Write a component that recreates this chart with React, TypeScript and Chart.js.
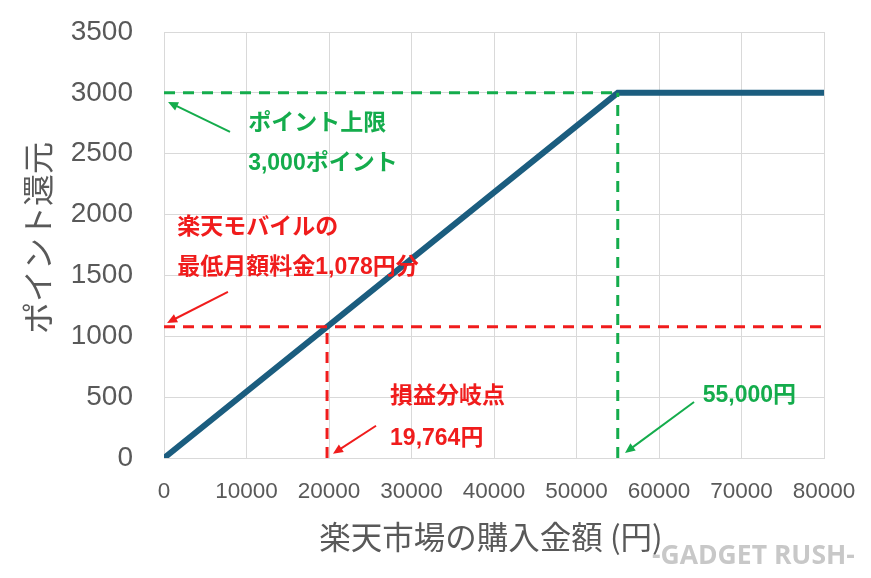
import React, { useEffect, useRef } from 'react';
import { Chart, registerables } from 'chart.js';

Chart.register(...registerables);

// ---- data ----
const purchaseAmounts = [0, 55000, 80000];
const pointsBack = [0, 3000, 3000];
const pointCap = 3000;
const capSpend = 55000;
const mobileFee = 1078;
const breakEven = 19764;
const xMin = 0;
const xMax = 80000;
const xStep = 10000;
const yMin = 0;
const yMax = 3500;
const yStep = 500;

const xTitle = '楽天市場の購入金額 (円)';
const yTitle = 'ポイント還元';
const watermark = '-GADGET RUSH-';

const GREEN = '#14ac4c';
const RED = '#f01c1c';
const BLUE = '#1b5d7f';
const GRAY_TEXT = '#595959';
const GRID = '#d9d9d9';

// annotation texts, anchored in data coordinates (left edge, vertical middle)
const noteTexts = ['ポイント上限', '3,000ポイント', '楽天モバイルの', '最低月額料金1,078円分', '損益分岐点', '19,764円', '55,000円'];
const noteX = [10200, 10200, 1600, 1600, 27400, 27400, 65300];
const noteY = [2750, 2420, 1890, 1560, 500, 156, 509];
const noteColors = [GREEN, GREEN, RED, RED, RED, RED, GREEN];

// arrows in data coordinates: tail -> head
const arrowFromX = [8000, 7750, 25700, 64250];
const arrowFromY = [2680, 1365, 265, 460];
const arrowToX = [490, 370, 20480, 55880];
const arrowToY = [2925, 1110, 35, 42];
const arrowColors = [GREEN, RED, RED, GREEN];

const overlayPlugin = {
  id: 'overlay',
  afterDatasetsDraw(chart: any) {
    const ctx = chart.ctx as CanvasRenderingContext2D;
    const xs = chart.scales.x;
    const ys = chart.scales.y;
    ctx.save();
    for (let i = 0; i < arrowFromX.length; i++) {
      const x1 = xs.getPixelForValue(arrowFromX[i]);
      const y1 = ys.getPixelForValue(arrowFromY[i]);
      const x2 = xs.getPixelForValue(arrowToX[i]);
      const y2 = ys.getPixelForValue(arrowToY[i]);
      const ang = Math.atan2(y2 - y1, x2 - x1);
      const headLen = 10;
      const headHalf = 4.5;
      ctx.strokeStyle = arrowColors[i];
      ctx.fillStyle = arrowColors[i];
      ctx.lineWidth = 2;
      ctx.setLineDash([]);
      ctx.beginPath();
      ctx.moveTo(x1, y1);
      ctx.lineTo(x2 - Math.cos(ang) * headLen * 0.8, y2 - Math.sin(ang) * headLen * 0.8);
      ctx.stroke();
      ctx.beginPath();
      ctx.moveTo(x2, y2);
      ctx.lineTo(
        x2 - Math.cos(ang) * headLen - Math.sin(ang) * headHalf,
        y2 - Math.sin(ang) * headLen + Math.cos(ang) * headHalf
      );
      ctx.lineTo(
        x2 - Math.cos(ang) * headLen + Math.sin(ang) * headHalf,
        y2 - Math.sin(ang) * headLen - Math.cos(ang) * headHalf
      );
      ctx.closePath();
      ctx.fill();
    }
    ctx.font = "bold 23px 'Liberation Sans', 'Noto Sans CJK JP', sans-serif";
    ctx.textAlign = 'left';
    ctx.textBaseline = 'middle';
    for (let i = 0; i < noteTexts.length; i++) {
      ctx.fillStyle = noteColors[i];
      ctx.fillText(noteTexts[i], xs.getPixelForValue(noteX[i]), ys.getPixelForValue(noteY[i]));
    }
    ctx.restore();
  },
  afterDraw(chart: any) {
    const ctx = chart.ctx as CanvasRenderingContext2D;
    const area = chart.chartArea;
    ctx.save();
    ctx.fillStyle = GRAY_TEXT;
    ctx.font = "31.5px 'Noto Sans CJK JP', sans-serif";
    ctx.textAlign = 'center';
    ctx.textBaseline = 'middle';
    ctx.fillText(xTitle, (area.left + area.right) / 2 - 3, 537);
    ctx.font = "32px 'Noto Sans CJK JP', sans-serif";
    ctx.translate(38, (area.top + area.bottom) / 2 - 7);
    ctx.rotate(-Math.PI / 2);
    ctx.fillText(yTitle, 0, 0);
    ctx.restore();
    ctx.save();
    ctx.fillStyle = '#c8c8c8';
    ctx.font = "bold 26.5px 'Open Sans', sans-serif";
    ctx.textAlign = 'left';
    ctx.textBaseline = 'middle';
    ctx.fillText(watermark, 652, 556);
    ctx.restore();
  },
};

function pts(xsArr: number[], ysArr: number[]) {
  return xsArr.map((x, i) => ({ x, y: ysArr[i] }));
}

function zeroPad(s: any) {
  s.paddingTop = 0;
  s.paddingBottom = 0;
  s.paddingLeft = 0;
  s.paddingRight = 0;
}

export default function App() {
  const canvasRef = useRef<HTMLCanvasElement | null>(null);

  useEffect(() => {
    if (!canvasRef.current) return;
    const dashed = (data: any, color: string) => ({
      data,
      borderColor: color,
      borderWidth: 3,
      borderDash: [11, 8],
      pointRadius: 0,
      fill: false,
      tension: 0,
    });
    const chart = new Chart(canvasRef.current, {
      type: 'line',
      data: {
        datasets: [
          dashed(pts([xMin, capSpend], [pointCap, pointCap]), GREEN),
          dashed(pts([capSpend, capSpend], [yMin, pointCap]), GREEN),
          dashed(pts([xMin, xMax], [mobileFee, mobileFee]), RED),
          dashed(pts([breakEven, breakEven], [yMin, mobileFee]), RED),
          {
            data: pts(purchaseAmounts, pointsBack),
            borderColor: BLUE,
            borderWidth: 6,
            pointRadius: 0,
            fill: false,
            tension: 0,
            borderCapStyle: 'butt',
          },
        ],
      },
      options: {
        animation: false,
        responsive: false,
        devicePixelRatio: 1,
        layout: { padding: { left: 0, top: 32, right: 47, bottom: 0 } },
        plugins: { legend: { display: false }, tooltip: { enabled: false } },
        scales: {
          x: {
            type: 'linear',
            min: xMin,
            max: xMax,
            grid: { color: GRID, lineWidth: 1, drawTicks: false },
            border: { color: GRID, width: 1 },
            ticks: {
              stepSize: xStep,
              padding: 20,
              color: GRAY_TEXT,
              font: { family: "'Liberation Sans', sans-serif", size: 22.5 },
              callback: (v: any) => String(v),
              maxRotation: 0,
            },
            afterFit: (s: any) => {
              s.height = 120;
              zeroPad(s);
            },
          },
          y: {
            type: 'linear',
            min: yMin,
            max: yMax,
            grid: { color: GRID, lineWidth: 1, drawTicks: false },
            border: { color: GRID, width: 1 },
            ticks: {
              stepSize: yStep,
              padding: 31,
              color: GRAY_TEXT,
              font: { family: "'Liberation Sans', sans-serif", size: 28 },
              callback: (v: any) => String(v),
            },
            afterFit: (s: any) => {
              s.width = 164;
              zeroPad(s);
            },
          },
        },
      },
      plugins: [overlayPlugin],
    } as any);
    return () => chart.destroy();
  }, []);

  return (
    <div style={{ position: 'fixed', left: 0, top: 0, width: 871, height: 578, background: '#fff' }}>
      <canvas ref={canvasRef} width={871} height={578} />
    </div>
  );
}
